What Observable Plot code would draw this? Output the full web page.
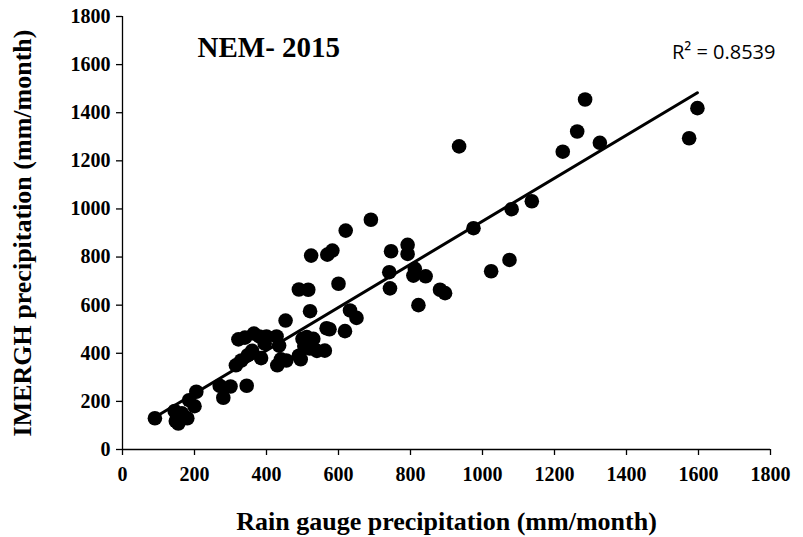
<!DOCTYPE html>
<html>
<head>
<meta charset="utf-8">
<script src="https://cdn.jsdelivr.net/npm/d3@7"></script>
<script src="https://cdn.jsdelivr.net/npm/@observablehq/plot@0.6"></script>
<style>
  html, body { margin: 0; padding: 0; background: #fff; }
  #chart { width: 803px; height: 537px; }
  #chart g[aria-label="x-axis tick label"], #chart g[aria-label="y-axis tick label"] {
    font-size: 20px; font-weight: bold; font-family: 'Liberation Serif', 'Times New Roman', serif;
  }
</style>
</head>
<body>
<div id="chart"></div>
<script>
// Rain gauge precipitation (mm/month)
const gauge = [90,145,148,155,165,180,185,200,205,270,280,300,315,330,345,322,340,348,360,365,380,385,395,400,428,430,435,440,453,455,490,490,495,500,505,512,516,521,520,524,530,540,562,569,567,575,583,600,618,620,632,650,690,741,743,746,792,792,808,812,822,842,882,896,935,975,1024,1075,1081,1137,1223,1263,1285,1326,1574,1597];
// IMERGH precipitation (mm/month)
const imergh = [130,160,118,108,150,130,205,180,240,265,215,262,350,370,265,458,465,392,410,482,470,380,440,470,470,350,432,375,536,370,665,390,375,460,430,467,664,575,420,806,460,410,411,810,504,500,827,689,492,910,578,547,955,737,670,824,851,813,723,751,600,720,664,650,1260,920,741,788,999,1032,1238,1322,1455,1275,1294,1419];
const xTicks = [0,200,400,600,800,1000,1200,1400,1600,1800];
const yTicks = [0,200,400,600,800,1000,1200,1400,1600,1800];
const titleText = "NEM- 2015";
const r2Text = "R² = 0.8539";
const xLabel = "Rain gauge precipitation (mm/month)";
const yLabel = "IMERGH precipitation (mm/month)";

const data = gauge.map((g, i) => ({gauge: g, imergh: imergh[i]}));

const serif = "'Liberation Serif', 'Times New Roman', serif";

const chart = Plot.plot({
  width: 803,
  height: 537,
  marginLeft: 122,
  marginRight: 33,
  marginTop: 16,
  marginBottom: 88,
  style: {fontFamily: serif, fontWeight: "bold", color: "#000", background: "#fff"},
  x: {domain: [0, 1800]},
  y: {domain: [0, 1800]},
  marks: [
    Plot.ruleY([0], {stroke: "#000", strokeWidth: 1.3}),
    Plot.ruleX([0], {stroke: "#000", strokeWidth: 1.3}),
    Plot.axisX({ticks: xTicks, tickFormat: d => String(d), tickSize: 6, tickPadding: 11, label: null, stroke: "#000", fill: "#000", strokeWidth: 1.3, fontSize: 20, fontWeight: "bold", fontFamily: serif}),
    Plot.axisY({ticks: yTicks, tickFormat: d => String(d), tickSize: 6, tickPadding: 6, label: null, stroke: "#000", fill: "#000", strokeWidth: 1.3, fontSize: 20, fontWeight: "bold", fontFamily: serif}),
    Plot.dot(data, {x: "gauge", y: "imergh", r: 7.3, fill: "#000", stroke: "none"}),
    Plot.linearRegressionY(data, {x: "gauge", y: "imergh", ci: 0, stroke: "#000", strokeWidth: 3}),
    Plot.text([titleText], {frameAnchor: "top-left", dx: 75, dy: 31, lineAnchor: "middle", text: d => d, fill: "#000", fontSize: 29, fontWeight: "bold", textAnchor: "start", fontFamily: serif}),
    Plot.text([r2Text], {frameAnchor: "top-right", dx: 5, dy: 36, lineAnchor: "middle", text: d => d, fill: "#000", fontSize: 20, fontWeight: "normal", textAnchor: "end", fontFamily: "'Open Sans', 'Liberation Sans', sans-serif"}),
    Plot.text([xLabel], {frameAnchor: "bottom", dy: 72, lineAnchor: "middle", text: d => d, fill: "#000", fontSize: 26, fontWeight: "bold", textAnchor: "middle", fontFamily: serif}),
    Plot.text([yLabel], {frameAnchor: "left", dx: -100, rotate: -90, lineAnchor: "middle", text: d => d, fill: "#000", fontSize: 26, fontWeight: "bold", textAnchor: "middle", fontFamily: serif})
  ]
});
document.getElementById("chart").appendChild(chart);
</script>
</body>
</html>
